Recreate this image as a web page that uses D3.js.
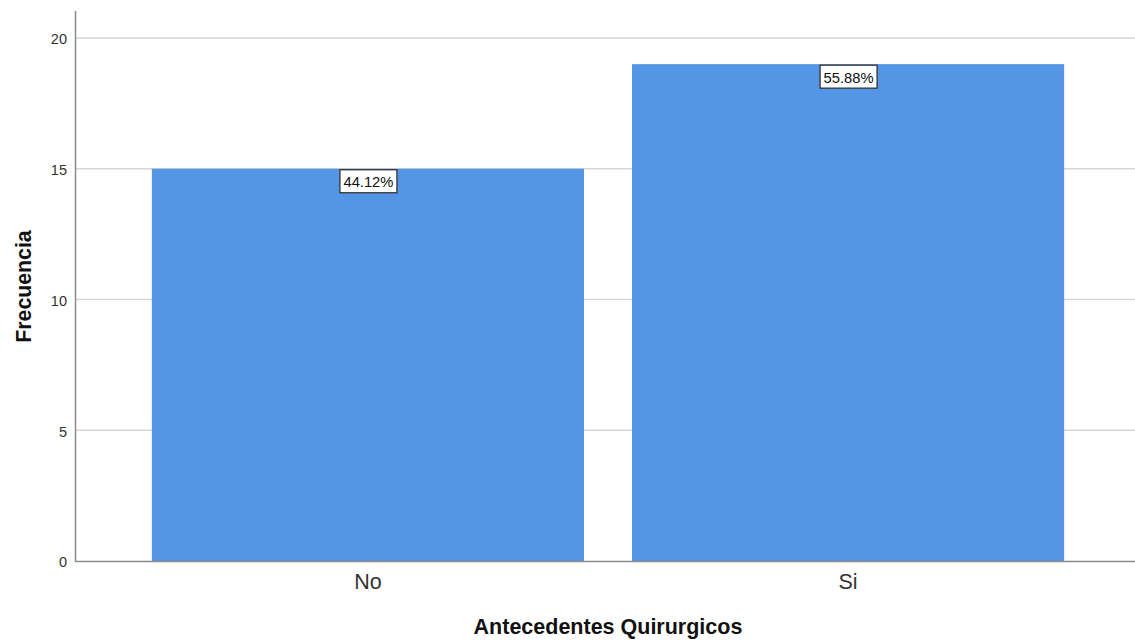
<!DOCTYPE html>
<html><head><meta charset="utf-8">
<script src="https://cdn.jsdelivr.net/npm/d3@7"></script>
<style>body{margin:0;background:#fff;}svg{display:block;font-family:"Liberation Sans",Arial,sans-serif;}</style>
</head><body>
<svg id="c" width="1135" height="641"></svg>
<script>
const categories = ["No", "Si"];
const counts = [15, 19];
const percentLabels = ["44.12%", "55.88%"];
const yTicks = [0, 5, 10, 15, 20];
const xTitle = "Antecedentes Quirurgicos";
const yTitle = "Frecuencia";

(function () {
const svg = d3.select("#c");
const mLeft = 76, mRight = 1140, mTop = 11, mBottom = 561;
const x = d3.scaleBand().domain(categories).range([mLeft, mRight]).paddingInner(0.1).paddingOuter(0.158);
const y = d3.scaleLinear().domain([0, 20]).range([mBottom, 38]);

// gridlines
svg.append("g").selectAll("line").data(yTicks.filter(d => d > 0)).join("line")
  .attr("x1", mLeft).attr("x2", 1135)
  .attr("y1", d => y(d)).attr("y2", d => y(d))
  .attr("stroke", "#d6d6d6").attr("stroke-width", 1.5);

// bars
svg.append("g").selectAll("rect").data(categories).join("rect")
  .attr("x", d => x(d)).attr("width", x.bandwidth())
  .attr("y", (d, i) => y(counts[i])).attr("height", (d, i) => mBottom - y(counts[i]))
  .attr("fill", "#5595e5");

// axis lines
svg.append("line").attr("x1", mLeft - 0.5).attr("x2", mLeft - 0.5).attr("y1", mTop).attr("y2", mBottom + 0.5)
  .attr("stroke", "#8a8a8a").attr("stroke-width", 1.5);
svg.append("line").attr("x1", mLeft - 1).attr("x2", 1135).attr("y1", mBottom + 0.5).attr("y2", mBottom + 0.5)
  .attr("stroke", "#8a8a8a").attr("stroke-width", 1.5);

// y ticks
const yAxis = d3.axisLeft(y).tickValues(yTicks).tickSize(0).tickPadding(9);
const ga = svg.append("g").attr("transform", `translate(${mLeft},0)`).call(yAxis);
ga.select(".domain").remove();
ga.selectAll("text").attr("font-size", 14.5).attr("fill", "#333").attr("dy", "0.4em")
  .attr("font-family", "'Liberation Sans', Arial, sans-serif");

// x labels
const xAxis = d3.axisBottom(x).tickSize(0).tickPadding(13);
const gx = svg.append("g").attr("transform", `translate(0,${mBottom})`).call(xAxis);
gx.select(".domain").remove();
gx.selectAll("text").attr("font-size", 21.5).attr("fill", "#333")
  .attr("font-family", "'Liberation Sans', Arial, sans-serif");

// value labels
const lab = svg.append("g").selectAll("g").data(categories).join("g")
  .attr("transform", (d, i) => `translate(${x(d) + x.bandwidth() / 2},${y(counts[i])})`);
lab.append("rect").attr("x", -28).attr("y", 1).attr("width", 57).attr("height", 23)
  .attr("fill", "#fff").attr("stroke", "#333").attr("stroke-width", 1.3);
lab.append("text").attr("text-anchor", "middle").attr("x", 0.5).attr("y", 18.5).attr("font-size", 14.5).attr("fill", "#111")
  .attr("textLength", 50).attr("lengthAdjust", "spacingAndGlyphs")
  .text((d, i) => percentLabels[i]);

// titles
svg.append("text").attr("x", 608).attr("y", 634).attr("text-anchor", "middle")
  .attr("font-size", 21.5).attr("font-weight", "bold").attr("fill", "#111").text(xTitle);
svg.append("text").attr("transform", "translate(31,286.5) rotate(-90)").attr("text-anchor", "middle")
  .attr("font-size", 21.3).attr("font-weight", "bold").attr("fill", "#111").text(yTitle);
})();
</script>
</body></html>
